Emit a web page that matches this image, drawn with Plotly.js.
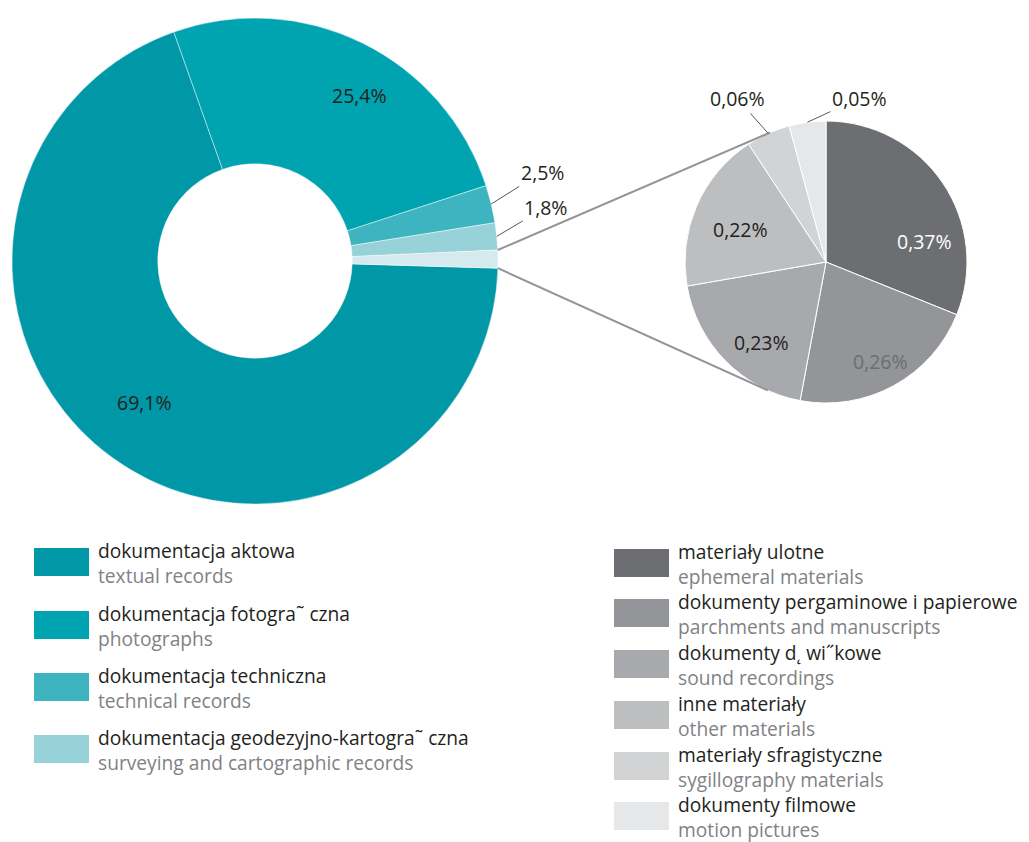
<!DOCTYPE html>
<html>
<head>
<meta charset="utf-8">
<script src="https://cdn.plot.ly/plotly-3.0.1.min.js"></script>
<style>
html,body{margin:0;padding:0;background:#fff;}
#chart{width:1029px;height:842px;}
</style>
</head>
<body>
<div id="chart"></div>
<script>
// ---------- DATA ----------
const mainLabelsPl = ['dokumentacja aktowa', 'dokumentacja fotogra˜ czna', 'dokumentacja techniczna', 'dokumentacja geodezyjno-kartogra˜ czna', 'pozostałe'];
const mainLabelsEn = ['textual records', 'photographs', 'technical records', 'surveying and cartographic records'];
const mainValues = [69.1, 25.4, 2.5, 1.8, 1.19];
const mainColors = ['#0097A7', '#00A3B0', '#3EB4C0', '#98D2D9', '#D5EAEF'];

const otherLabelsPl = ['materiały ulotne', 'dokumenty pergaminowe i papierowe', 'dokumenty d˛ wi˝kowe', 'inne materiały', 'materiały sfragistyczne', 'dokumenty filmowe'];
const otherLabelsEn = ['ephemeral materials', 'parchments and manuscripts', 'sound recordings', 'other materials', 'sygillography materials', 'motion pictures'];
const otherValues = [0.37, 0.26, 0.23, 0.22, 0.06, 0.05];
const otherColors = ['#6D6E71', '#939598', '#A7A9AC', '#BCBEC0', '#D1D3D4', '#E6E7E8'];

// ---------- LAYOUT GEOMETRY / STYLE ----------
const W = 1029, H = 842;
const FONT = 'Open Sans, Noto Sans, sans-serif';
const FS = 19.5;
const LFS = 19.2;
const DARK = '#231F20', GREY = '#808285';
const donutGeo = {cx: 255, cy: 261, r: 243, hole: 0.40, rotation: 91.7};
const pieGeo = {cx: 826, cy: 262, r: 141, rotation: 0};

const fmt = v => String(v).replace('.', ',') + '%';
const px = x => x / W;
const py = y => 1 - y / H;
const dom = g => ({x: [px(g.cx - g.r), px(g.cx + g.r)], y: [py(g.cy + g.r), py(g.cy - g.r)]});
const sum = a => a.reduce((s, v) => s + v, 0);
// angle in degrees, clockwise from 12 o'clock
const pt = (g, deg, rr) => {
  const a = deg * Math.PI / 180, R = rr === undefined ? g.r : rr;
  return [g.cx + R * Math.sin(a), g.cy - R * Math.cos(a)];
};
function sliceAngles(values, rot) {
  const tot = sum(values); let cur = rot; const out = [];
  values.forEach(v => { const a0 = cur; cur += 360 * v / tot; out.push([a0, cur]); });
  return out;
}
const mainAng = sliceAngles(mainValues, donutGeo.rotation);
const otherAng = sliceAngles(otherValues, pieGeo.rotation);

// inside label placement: [angle shift from slice middle (deg), radius fraction]
const mainInsidePos = {0: [1.7, 0.739], 1: [6.1, 0.808]};
const otherInsidePos = {0: [22.6, 0.716], 1: [0.3, 0.806], 2: [-6.3, 0.731], 3: [-2.3, 0.647]};
const otherTextColors = ['#FFFFFF', '#6D6E71', DARK, DARK, DARK, DARK];
// outside label offsets (px) from slice mid-edge
const mainOutsideOffset = {2: [51, -32], 3: [49, -29]};
const otherOutsideOffset = {4: [-31, -35], 5: [52, -24]};

const traces = [
  {
    type: 'pie', sort: false, direction: 'clockwise', rotation: donutGeo.rotation,
    hole: donutGeo.hole, domain: dom(donutGeo),
    labels: mainLabelsPl, values: mainValues,
    marker: {colors: mainColors, line: {color: 'rgba(255,255,255,0.55)', width: 0.8}},
    textinfo: 'none', hoverinfo: 'none', showlegend: false
  },
  {
    type: 'pie', sort: false, direction: 'clockwise', rotation: pieGeo.rotation,
    domain: dom(pieGeo),
    labels: otherLabelsPl, values: otherValues,
    marker: {colors: otherColors, line: {color: '#FFFFFF', width: 1}},
    textinfo: 'none', hoverinfo: 'none', showlegend: false
  }
];

const shapes = [];
const annotations = [];

// connector lines: donut remainder slice -> tangents of the small pie
(function () {
  const last = mainAng[mainAng.length - 1];
  const pU = pt(donutGeo, last[0]);
  const pL = pt(donutGeo, last[1]);
  function tangent(P, upper) {
    const dx = P[0] - pieGeo.cx, dy = P[1] - pieGeo.cy;
    const d = Math.hypot(dx, dy);
    const phi = Math.atan2(dx, -dy) * 180 / Math.PI;
    const off = Math.acos(pieGeo.r / d) * 180 / Math.PI;
    return pt(pieGeo, upper ? phi + off : phi - off);
  }
  const tU = tangent(pU, true), tL = tangent(pL, false);
  [[pU, tU], [pL, tL]].forEach(([a, b]) => shapes.push({
    type: 'line', xref: 'paper', yref: 'paper',
    x0: px(a[0]), y0: py(a[1]), x1: px(b[0]), y1: py(b[1]),
    line: {color: '#939598', width: 2}, layer: 'above'
  }));
})();

// inside labels
function insideLabel(g, ang, values, idx, pos, color) {
  const mid = (ang[idx][0] + ang[idx][1]) / 2;
  const p = pt(g, mid + pos[0], pos[1] * g.r);
  annotations.push({
    xref: 'paper', yref: 'paper', x: px(p[0]), y: py(p[1]),
    xanchor: 'center', yanchor: 'middle', showarrow: false,
    text: fmt(values[idx]), font: {family: FONT, size: FS, color: color}
  });
}
Object.keys(mainInsidePos).forEach(k => insideLabel(donutGeo, mainAng, mainValues, +k, mainInsidePos[k], DARK));
Object.keys(otherInsidePos).forEach(k => insideLabel(pieGeo, otherAng, otherValues, +k, otherInsidePos[k], otherTextColors[+k]));

// outside labels with leader lines
function outsideLabel(g, ang, values, idx, off) {
  const mid = (ang[idx][0] + ang[idx][1]) / 2;
  const p = pt(g, mid);
  annotations.push({
    xref: 'paper', yref: 'paper', x: px(p[0]), y: py(p[1]),
    text: fmt(values[idx]), showarrow: true, arrowhead: 0, arrowwidth: 1,
    arrowcolor: '#58595B', ax: off[0], ay: off[1], standoff: 0,
    font: {family: FONT, size: FS, color: DARK}
  });
}
Object.keys(mainOutsideOffset).forEach(k => outsideLabel(donutGeo, mainAng, mainValues, +k, mainOutsideOffset[k]));
Object.keys(otherOutsideOffset).forEach(k => outsideLabel(pieGeo, otherAng, otherValues, +k, otherOutsideOffset[k]));

// custom legends (two-line entries: Polish / English)
function legendItem(x, top, color, pl, en) {
  shapes.push({type: 'rect', xref: 'paper', yref: 'paper',
    x0: px(x), x1: px(x + 55), y0: py(top + 28), y1: py(top),
    fillcolor: color, line: {width: 0}});
  annotations.push({xref: 'paper', yref: 'paper', x: px(x + 63), y: py(top + 14.5),
    xanchor: 'left', yanchor: 'middle', align: 'left', showarrow: false, borderpad: 0,
    text: pl + '<br><span style="color:' + GREY + '">' + en + '</span>',
    font: {family: FONT, size: LFS, color: DARK}});
}
const leftTops = [548, 611, 673, 735];
mainLabelsEn.forEach((en, i) => legendItem(34, leftTops[i], mainColors[i], mainLabelsPl[i], en));
const rightTops = [549, 599, 650, 701, 752, 802];
otherLabelsEn.forEach((en, i) => legendItem(614, rightTops[i], otherColors[i], otherLabelsPl[i], en));

const layout = {
  width: W, height: H,
  margin: {l: 0, r: 0, t: 0, b: 0},
  paper_bgcolor: '#FFFFFF', plot_bgcolor: '#FFFFFF',
  showlegend: false,
  font: {family: FONT, size: FS, color: DARK},
  shapes: shapes, annotations: annotations
};

Plotly.newPlot('chart', traces, layout, {displayModeBar: false, staticPlot: true});
</script>
</body>
</html>
